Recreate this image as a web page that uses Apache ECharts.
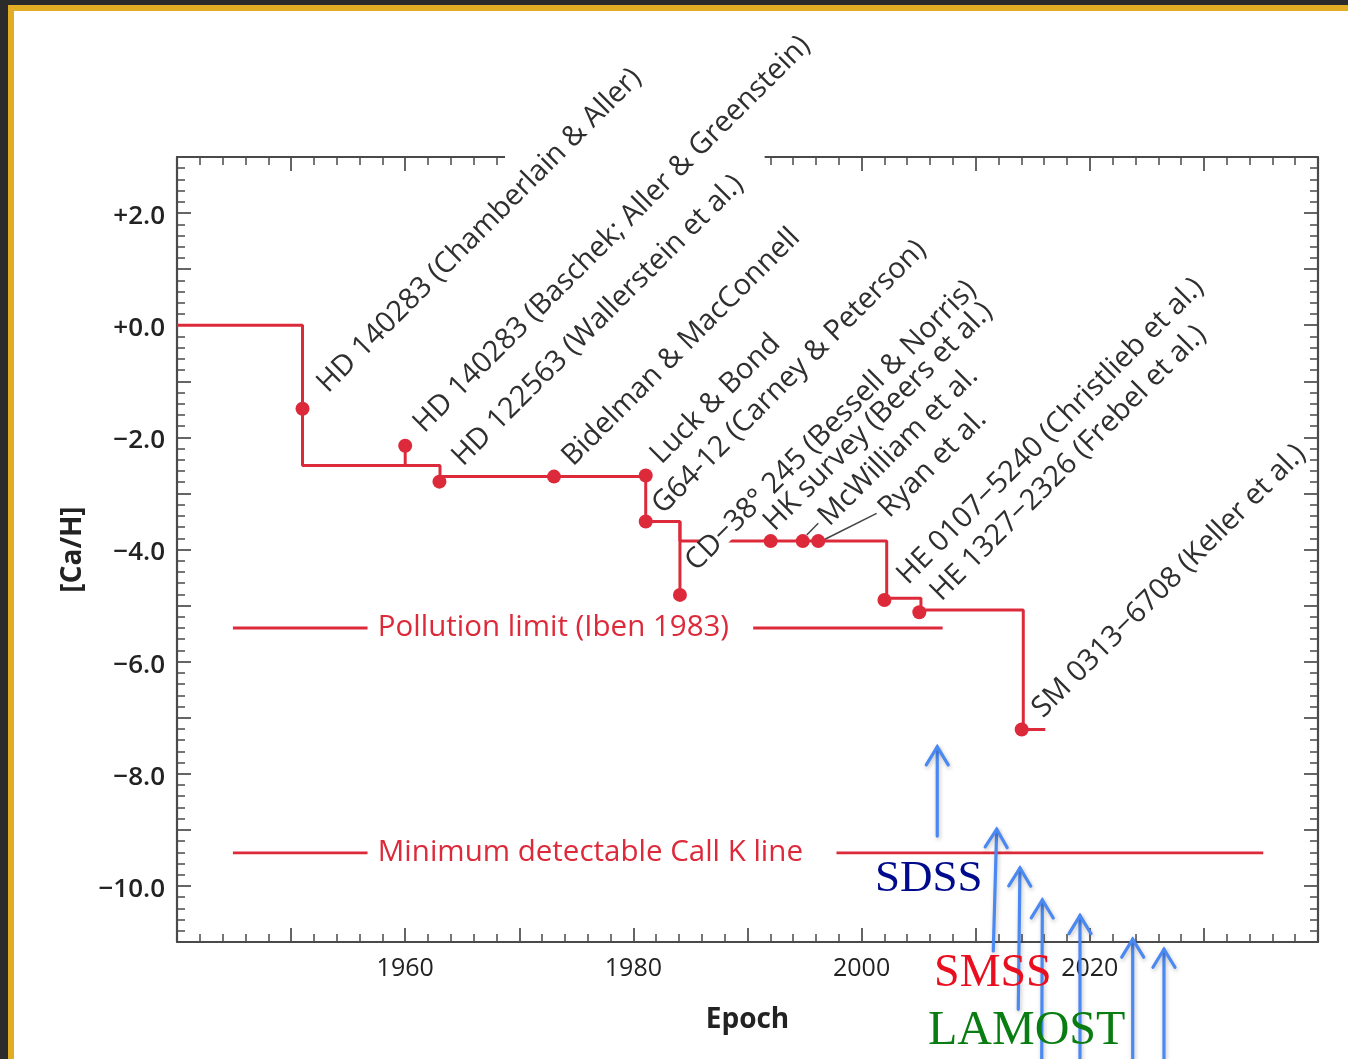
<!DOCTYPE html>
<html><head><meta charset="utf-8">
<script src="https://cdn.jsdelivr.net/npm/echarts@6/dist/echarts.min.js"></script>
<style>
html,body{margin:0;padding:0;width:1348px;height:1059px;overflow:hidden;background:#2b2b2b;}
#frame{position:absolute;left:8px;top:5px;right:0;bottom:0;background:#fff;border-top:6px solid #e2ac24;border-left:6px solid #e2ac24;}
#chart{position:absolute;left:0;top:0;width:1348px;height:1059px;}
</style></head><body>
<div id="frame"></div><div id="chart"></div>
<script>
// ---- data ----
const recordYears  = [1940, 1951, 1963.05, 1981.08, 1984.08, 2002.2, 2005.2, 2014.17, 2016.1];
const recordValues = [0, -2.5, -2.7, -3.5, -3.85, -4.87, -5.08, -7.21, -7.21];

const starNames = [
  'HD 140283 (Chamberlain & Aller)',
  'HD 140283 (Baschek; Aller & Greenstein)',
  'HD 122563 (Wallerstein et al.)',
  'Bidelman & MacConnell',
  'Luck & Bond',
  'G64-12 (Carney & Peterson)',
  'CD\u221238\u00b0 245 (Bessell & Norris)',
  'HK survey (Beers et al.)',
  'McWilliam et al.',
  'Ryan et al.',
  'HE 0107\u22125240 (Christlieb et al.)',
  'HE 1327\u22122326 (Frebel et al.)',
  'SM 0313\u22126708 (Keller et al.)'
];
const starYears  = [1951.0, 1960.0, 1963.0, 1973.04, 1981.08, 1981.08, 1984.08, 1992.03, 1994.84, 1996.2, 2002.0, 2005.06, 2014.03];
const starValues = [-1.49, -2.15, -2.79, -2.70, -2.68, -3.50, -4.81, -3.85, -3.85, -3.85, -4.90, -5.12, -7.21];
const labelYears  = [1952.04, 1960.48, 1963.87, 1973.51, 1981.25, 1981.40, 1984.32, 1991.18, 1995.98, 2001.24, 2002.87, 2005.79, 2014.71];
const labelValues = [-1.056, -1.769, -2.363, -2.363, -2.327, -3.219, -4.236, -3.522, -3.433, -3.285, -4.473, -4.771, -6.852];

// vertical stems: year, top value, bottom value
const stemYears = [1960.0, 1984.08];
const stemTops = [-2.15, -3.5];
const stemBottoms = [-2.5, -4.81];

// leader lines (year0, value0, year1, value1)
const leaderFromYears = [1995.19, 1996.79];
const leaderFromValues = [-3.742, -3.818];
const leaderToYears = [1996.2, 2001.32];
const leaderToValues = [-3.533, -3.355];

// reference limits
const limitNames = ['Pollution limit (Iben 1983)', 'Minimum detectable Call K line'];
const limitValues = [-5.40, -9.41];
const limitTextYears = [1957.6, 1957.6];
const limitSegStart = [[1944.9, 1990.5], [1944.9, 1997.8]];
const limitSegEnd   = [[1956.7, 2007.1], [1956.7, 2035.2]];

// survey arrows
const arrowFromYears  = [2006.63, 2011.54, 2013.73, 2015.78, 2019.14, 2023.76, 2026.50];
const arrowFromValues = [-9.11, -11.16, -12.20, -13.4, -13.4, -13.4, -13.4];
const arrowToYears    = [2006.63, 2011.84, 2013.88, 2015.84, 2019.14, 2023.76, 2026.50];
const arrowToValues   = [-7.52, -8.99, -9.68, -10.25, -10.53, -10.95, -11.13];

const surveyNames = ['SDSS', 'SMSS', 'LAMOST'];
const surveyYears = [2001.18, 2006.35, 2005.82];
const surveyValues = [-9.877, -11.57, -12.59];

// gap in the top frame (behind the first labels)
const maskYears = [1968.75, 1991.5];
const maskValues = [2.6, 3.2];

// ---- style ----
const RED = '#dd2a3b';
const AXIS = '#4a4a4a';
const TXT = '#2f2f2f';
const surveyColors = ['#000a8c', '#ea0f1f', '#0a7d12'];
const surveySizes = [45, 46, 48];
const FONT = '"Open Sans", "Noto Sans", sans-serif';

const chart = echarts.init(document.getElementById('chart'), null, {renderer: 'canvas', devicePixelRatio: 1});

function axisCommon() {
  return {
    axisLine: {show: true, onZero: false, lineStyle: {color: AXIS, width: 2.2}},
    axisTick: {show: true, inside: true, length: 14, lineStyle: {color: AXIS, width: 1.7}},
    minorTick: {show: true, splitNumber: 5, length: 8, lineStyle: {color: AXIS, width: 1.5}},
    splitLine: {show: false},
    minorSplitLine: {show: false}
  };
}

const xFmt = v => (v % 20 === 0 && v > 1940 && v < 2040) ? String(v) : '';
const yFmt = v => {
  if (Math.round(v) % 2 !== 0) return '';
  const s = Math.abs(v).toFixed(1);
  return '{v|' + (v < 0 ? '\u2212' : '+') + s + '}';
};

const zip = (a, b) => a.map((v, i) => [v, b[i]]);

const option = {
  animation: false,
  backgroundColor: 'transparent',
  grid: {left: 177, right: 30, top: 157, bottom: 117, containLabel: false},
  xAxis: [
    Object.assign(axisCommon(), {
      type: 'value', position: 'bottom', min: 1940, max: 2040, interval: 10,
      axisLabel: {show: true, formatter: xFmt, margin: 14, color: '#222', fontSize: 25, fontFamily: FONT},
      name: 'Epoch', nameLocation: 'middle', nameGap: 64,
      nameTextStyle: {color: '#222', fontSize: 28, fontWeight: 'bold', fontFamily: FONT}
    }),
    Object.assign(axisCommon(), {
      type: 'value', position: 'top', min: 1940, max: 2040, interval: 10,
      axisLabel: {show: false}
    })
  ],
  yAxis: [
    Object.assign(axisCommon(), {
      type: 'value', position: 'left', min: -11, max: 3, interval: 1,
      axisLabel: {show: true, formatter: yFmt, margin: 12, color: '#222', fontSize: 26, fontWeight: 600, fontFamily: FONT,
        rich: {v: {color: '#222', fontSize: 26, fontWeight: 600, fontFamily: FONT, padding: [7, 0, 0, 0]}}},
      name: '[Ca/H]', nameLocation: 'middle', nameGap: 86,
      nameTextStyle: {color: '#222', fontSize: 28, fontWeight: 'bold', fontFamily: FONT}
    }),
    Object.assign(axisCommon(), {
      type: 'value', position: 'right', min: -11, max: 3, interval: 1,
      axisLabel: {show: false}
    })
  ],
  series: [
    // mask for the top frame gap
    {
      type: 'custom', z: 3, silent: true,
      data: [[maskYears[0], maskValues[0], maskYears[1], maskValues[1]]],
      renderItem: (params, api) => {
        const a = api.coord([api.value(0), api.value(1)]);
        const b = api.coord([api.value(2), api.value(3)]);
        return {type: 'rect', shape: {x: a[0], y: b[1], width: b[0] - a[0], height: a[1] - b[1]}, style: {fill: '#fff'}};
      }
    },
    // limit lines
    {
      type: 'custom', z: 3, silent: true,
      data: limitValues.map((v, i) => [i, v]),
      renderItem: (params, api) => {
        const i = params.dataIndex;
        const v = limitValues[i];
        const children = [];
        for (let k = 0; k < limitSegStart[i].length; k++) {
          const a = api.coord([limitSegStart[i][k], v]);
          const b = api.coord([limitSegEnd[i][k], v]);
          children.push({type: 'line', shape: {x1: a[0], y1: a[1], x2: b[0], y2: b[1]}, style: {stroke: RED, lineWidth: 2.8}});
        }
        const t = api.coord([limitTextYears[i], v]);
        children.push({type: 'text', x: t[0], y: t[1], style: {text: limitNames[i], fill: RED, font: '29.5px ' + FONT, align: 'left', verticalAlign: 'middle'}});
        return {type: 'group', children};
      }
    },
    // record step line
    {
      type: 'line', z: 2, step: 'end', symbol: 'none', silent: true,
      data: zip(recordYears, recordValues),
      lineStyle: {color: RED, width: 3}
    },
    // star labels
    {
      type: 'custom', z: 4, silent: true,
      data: zip(labelYears, labelValues),
      renderItem: (params, api) => {
        const i = params.dataIndex;
        const p = api.coord([api.value(0), api.value(1)]);
        const children = [];
        if (i === 6) {
          children.push({type: 'rect', shape: {x: -2, y: -4, width: 440, height: 22}, style: {fill: '#fff'}});
        }
        children.push({type: 'text', x: 3, y: 8, style: {text: starNames[i], fill: TXT, font: '29px ' + FONT, align: 'left', verticalAlign: 'middle'}});
        return {type: 'group', x: p[0], y: p[1], rotation: Math.PI / 4, children};
      }
    },
    // leader lines
    {
      type: 'custom', z: 4, silent: true,
      data: leaderFromYears.map((y, i) => [y, leaderFromValues[i], leaderToYears[i], leaderToValues[i]]),
      renderItem: (params, api) => {
        const a = api.coord([api.value(0), api.value(1)]);
        const b = api.coord([api.value(2), api.value(3)]);
        return {type: 'line', shape: {x1: a[0], y1: a[1], x2: b[0], y2: b[1]}, style: {stroke: '#444', lineWidth: 1.5}};
      }
    },
    // stems
    {
      type: 'custom', z: 5, silent: true,
      data: stemYears.map((y, i) => [y, stemTops[i], stemBottoms[i]]),
      renderItem: (params, api) => {
        const a = api.coord([api.value(0), api.value(1)]);
        const b = api.coord([api.value(0), api.value(2)]);
        return {type: 'line', shape: {x1: a[0], y1: a[1], x2: b[0], y2: b[1]}, style: {stroke: RED, lineWidth: 3}};
      }
    },
    // measurements
    {
      type: 'scatter', z: 6, silent: true, symbol: 'circle', symbolSize: 14,
      data: zip(starYears, starValues),
      itemStyle: {color: RED, opacity: 1}
    },
    // arrows
    {
      type: 'custom', z: 7, silent: true,
      data: arrowFromYears.map((y, i) => [y, arrowFromValues[i], arrowToYears[i], arrowToValues[i]]),
      renderItem: (params, api) => {
        const a = api.coord([api.value(0), api.value(1)]);
        const b = api.coord([api.value(2), api.value(3)]);
        const dx = b[0] - a[0], dy = b[1] - a[1], L = Math.hypot(dx, dy);
        const ux = dx / L, uy = dy / L, hl = 18, hw = 11;
        const l = [b[0] - ux * hl - uy * hw, b[1] - uy * hl + ux * hw];
        const r = [b[0] - ux * hl + uy * hw, b[1] - uy * hl - ux * hw];
        const st = {stroke: '#4a88f2', lineWidth: 3.2, lineCap: 'round', lineJoin: 'miter', fill: null,
          shadowBlur: 4, shadowColor: 'rgba(0,0,0,0.25)', shadowOffsetX: 1, shadowOffsetY: 2};
        return {type: 'group', children: [
          {type: 'line', shape: {x1: a[0], y1: a[1], x2: b[0], y2: b[1]}, style: st},
          {type: 'polyline', shape: {points: [l, b, r]}, style: Object.assign({}, st)}
        ]};
      }
    },
    // survey names
    {
      type: 'custom', z: 8, silent: true,
      data: zip(surveyYears, surveyValues),
      renderItem: (params, api) => {
        const i = params.dataIndex;
        const p = api.coord([api.value(0), api.value(1)]);
        return {type: 'text', x: p[0], y: p[1], style: {text: surveyNames[i], fill: surveyColors[i],
          font: surveySizes[i] + 'px "Liberation Serif", "Times New Roman", serif', align: 'left', verticalAlign: 'middle'}};
      }
    }
  ]
};
chart.setOption(option);
</script>
</body></html>
